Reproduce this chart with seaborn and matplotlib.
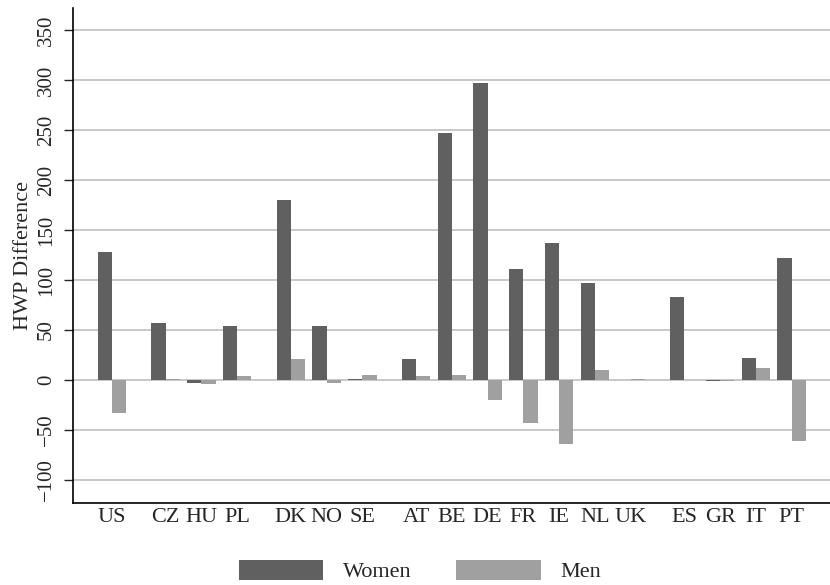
import matplotlib
matplotlib.use("Agg")
import matplotlib.pyplot as plt
import seaborn as sns
import pandas as pd

countries = ["US", "CZ", "HU", "PL", "DK", "NO", "SE", "AT", "BE", "DE",
             "FR", "IE", "NL", "UK", "ES", "GR", "IT", "PT"]
region = [0, 1, 1, 1, 2, 2, 2, 3, 3, 3, 3, 3, 3, 3, 4, 4, 4, 4]
women = [128, 57, -3, 54, 180, 54, 1, 21, 247, 297, 111, 137, 97, -0.5, 83, -1, 22, 122]
men = [-33, 0.5, -4, 4, 21, -3.5, 5, 4, 5, -20, -43, -64, 10, 1, 0.3, -1.5, 12, -61]
yticks = [-100, -50, 0, 50, 100, 150, 200, 250, 300, 350]

sns.set_style("white")
plt.rcParams["font.family"] = ["Liberation Serif", "DejaVu Serif"]

pos = [i + 0.5 * r for i, r in enumerate(region)]
df = pd.DataFrame({
    "pos": pos * 2,
    "value": women + men,
    "sex": ["Women"] * len(women) + ["Men"] * len(men),
})

fig = plt.figure(figsize=(8.3, 5.85), dpi=100)
ax = fig.add_axes([0.0883, 0.1407, 1 - 0.0883, 0.9863 - 0.1407])

sns.barplot(data=df, x="pos", y="value", hue="sex", native_scale=True,
            palette={"Women": "#606060", "Men": "#a0a0a0"},
            errorbar=None, linewidth=0, ax=ax)

ax.set_xlim(-1.08, 20.07)
ax.set_ylim(-122.7, 372)
ax.set_xticks(pos)
ax.set_xticklabels(countries, fontsize=16)
ax.set_yticks(yticks)
ax.set_yticklabels([str(t).replace("-", "\u2212") for t in yticks],
                   fontsize=15, rotation=90, va="center")
ax.tick_params(axis="x", length=0, pad=4)
ax.tick_params(axis="y", length=6.5, width=1.0, pad=6, direction="out", left=True)
ax.set_xlabel("")
ax.set_ylabel("HWP Difference", fontsize=16)
ax.yaxis.set_label_coords(-0.053, 0.5)

ax.yaxis.grid(True, color="#c8c8c8", linewidth=1.4)
ax.xaxis.grid(False)
ax.set_axisbelow(True)
for s in ["top", "right"]:
    ax.spines[s].set_visible(False)
for s in ["left", "bottom"]:
    ax.spines[s].set_color("black")
    ax.spines[s].set_linewidth(1.2)

handles, labels = ax.get_legend_handles_labels()
ax.get_legend().remove()
fig.legend(handles, labels, loc="center", bbox_to_anchor=(0.506, 0.024),
           ncol=2, frameon=False, fontsize=16, handlelength=3.8,
           handleheight=1.0, handletextpad=0.9, columnspacing=2.0)

fig.savefig("out.png", dpi=100)
